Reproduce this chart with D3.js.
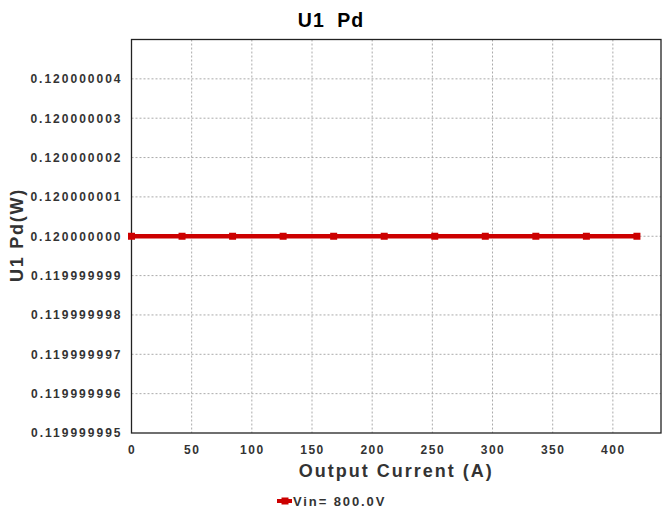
<!DOCTYPE html>
<html><head><meta charset="utf-8">
<script src="https://cdn.jsdelivr.net/npm/d3@7"></script>
<style>body{margin:0;background:#fff}svg{display:block}</style>
</head><body>
<svg id="c" width="670" height="514"></svg>
<script>
const xValues = [0, 42, 84, 126, 168, 210, 252, 294, 336, 378, 420];
const yValues = [0.12, 0.12, 0.12, 0.12, 0.12, 0.12, 0.12, 0.12, 0.12, 0.12, 0.12];
const xTicks = [0, 50, 100, 150, 200, 250, 300, 350, 400];
const yTicks = [0.119999995, 0.119999996, 0.119999997, 0.119999998, 0.119999999, 0.120000000, 0.120000001, 0.120000002, 0.120000003, 0.120000004];
const seriesName = "Vin= 800.0V";

const svg = d3.select("#c");
const L = 131.5, R = 661, T = 39.5, B = 433;
const x = d3.scaleLinear().domain([0, 440]).range([L, R]);
const y = d3.scaleLinear().domain([0.119999995, 0.120000005]).range([B, T]);
const font = "'Liberation Sans', Arial, sans-serif";

// grid
svg.append("g").selectAll("line").data(xTicks.slice(1)).join("line")
  .attr("x1", d => x(d)).attr("x2", d => x(d)).attr("y1", T).attr("y2", B)
  .attr("stroke", "#aaa").attr("stroke-width", 1).attr("stroke-dasharray", "2,2");
svg.append("g").selectAll("line").data(yTicks.slice(1)).join("line")
  .attr("x1", L).attr("x2", R).attr("y1", d => y(d)).attr("y2", d => y(d))
  .attr("stroke", "#aaa").attr("stroke-width", 1).attr("stroke-dasharray", "2,2");

// frame
svg.append("rect").attr("x", L).attr("y", T).attr("width", R - L).attr("height", B - T)
  .attr("fill", "none").attr("stroke", "#222").attr("stroke-width", 1.3);

// axes labels
const xAxis = d3.axisBottom(x).tickValues(xTicks).tickSize(0).tickPadding(12.5).tickFormat(d3.format("d"));
const gx = svg.append("g").attr("transform", `translate(0,${B})`).call(xAxis);
gx.select(".domain").remove();
gx.selectAll("text").attr("font-family", font).attr("font-size", 12).attr("font-weight", "bold")
  .attr("fill", "#333").attr("letter-spacing", "1.5px");

const yAxis = d3.axisLeft(y).tickValues(yTicks).tickSize(0).tickPadding(9).tickFormat(d3.format(".9f"));
const gy = svg.append("g").attr("transform", `translate(${L},0)`).call(yAxis);
gy.select(".domain").remove();
gy.selectAll("text").attr("font-family", font).attr("font-size", 12).attr("font-weight", "bold")
  .attr("fill", "#333").attr("letter-spacing", "2px");

// series
const line = d3.line().x((d, i) => x(xValues[i])).y(d => y(d));
svg.append("path").datum(yValues).attr("d", line).attr("fill", "none")
  .attr("stroke", "#cc0000").attr("stroke-width", 4.5);
svg.append("g").selectAll("rect").data(yValues).join("rect")
  .attr("x", (d, i) => x(xValues[i]) - 3.5).attr("y", d => y(d) - 3.5)
  .attr("width", 7).attr("height", 7).attr("fill", "#cc0000");

// titles
svg.append("text").attr("x", 331).attr("y", 26.7).attr("text-anchor", "middle")
  .attr("font-family", font).attr("font-size", 19.5).attr("font-weight", "bold").attr("fill", "#000")
  .attr("letter-spacing", "1px").attr("word-spacing", "6px").text("U1 Pd");
svg.append("text").attr("x", (L + R) / 2).attr("y", 477).attr("text-anchor", "middle")
  .attr("font-family", font).attr("font-size", 18).attr("font-weight", "bold").attr("fill", "#333")
  .attr("letter-spacing", "2px").text("Output Current (A)");
svg.append("text").attr("transform", `translate(23,235) rotate(-90)`).attr("text-anchor", "middle")
  .attr("font-family", font).attr("font-size", 18).attr("font-weight", "bold").attr("fill", "#333")
  .attr("letter-spacing", "1.75px").text("U1 Pd(W)");

// legend
svg.append("line").attr("x1", 277).attr("x2", 292).attr("y1", 501).attr("y2", 501)
  .attr("stroke", "#cc0000").attr("stroke-width", 4);
svg.append("rect").attr("x", 281.5).attr("y", 497.5).attr("width", 7).attr("height", 7).attr("fill", "#cc0000");
svg.append("text").attr("x", 293).attr("y", 506).attr("font-family", font).attr("font-size", 13)
  .attr("font-weight", "bold").attr("fill", "#333").attr("letter-spacing", "1.9px").text(seriesName);
</script>
</body></html>
